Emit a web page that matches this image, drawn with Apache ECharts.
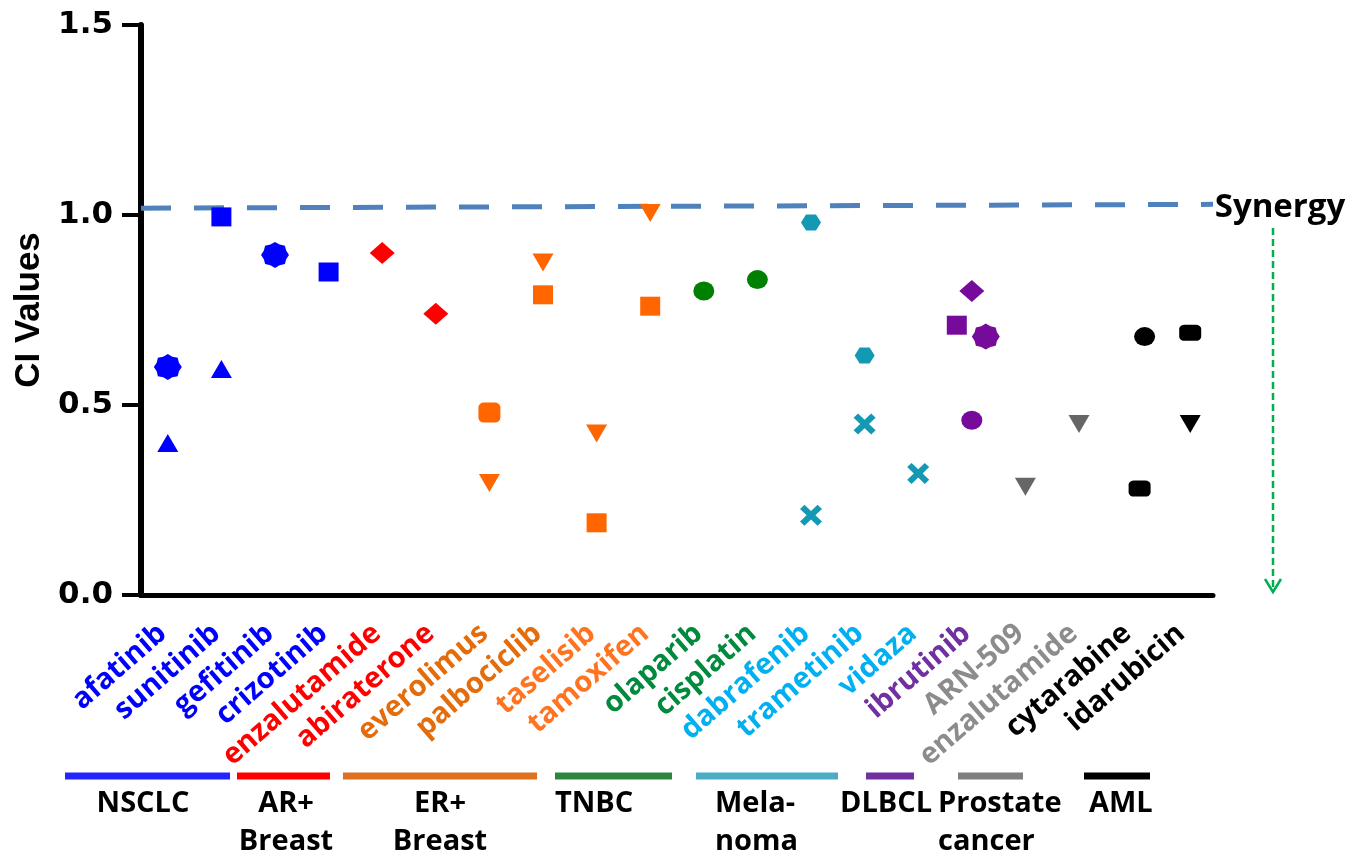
<!DOCTYPE html>
<html><head><meta charset="utf-8">
<script src="https://cdn.jsdelivr.net/npm/echarts@6/dist/echarts.min.js"></script>
<style>html,body{margin:0;padding:0;background:#fff}#c{width:1350px;height:857px}</style>
</head><body><div id="c"></div>
<script>
// ---------- data ----------
const drugs = ['afatinib','sunitinib','gefitinib','crizotinib','enzalutamide','abiraterone',
  'everolimus','palbociclib','taselisib','tamoxifen','olaparib','cisplatin','dabrafenib',
  'trametinib','vidaza','ibrutinib','ARN-509','enzalutamide','cytarabine','idarubicin'];
const yTicks = [0, 0.5, 1.0, 1.5];
// [drug index, CI value]
const flowerPts      = [[0,0.60],[2,0.895],[15,0.68]];
const trianglePts    = [[0,0.40],[1,0.595]];
const squarePts      = [[1,0.995],[3,0.85],[7,0.79],[8,0.19],[9,0.76],[15,0.71]];
const diamondPts     = [[4,0.90],[5,0.74],[15,0.80]];
const roundSquarePts = [[6,0.48],[18,0.28],[19,0.69]];
const triDownPts     = [[6,0.295],[7,0.875],[8,0.425],[9,1.005],[16,0.285],[17,0.45],[19,0.45]];
const circlePts      = [[10,0.80],[11,0.83],[15,0.46],[18,0.68]];
const hexagonPts     = [[12,0.98],[13,0.63]];
const crossPts       = [[12,0.21],[13,0.45],[14,0.32]];
const synergyLevel   = [1.018, 1.028]; // dashed line, left end / right end
const groupNames = ['NSCLC','AR+\nBreast','ER+\nBreast','TNBC','Mela-\nnoma','DLBCL','Prostate\ncancer','AML'];

// ---------- styles ----------
const labelColors = ['#0000ff','#0000ff','#0000ff','#0000ff','#ff0000','#ff0000',
  '#e46c0a','#e46c0a','#ff7420','#ff7420','#008a3e','#008a3e','#00b0f0',
  '#00b0f0','#00b0f0','#7030a0','#8c8c8c','#8c8c8c','#000000','#000000'];
const markerColors = ['#0000ff','#0000ff','#0000ff','#0000ff','#ff0000','#ff0000',
  '#ff6600','#ff6600','#ff6600','#ff6600','#008000','#008000','#1399b3',
  '#1399b3','#1399b3','#760a9a','#666666','#666666','#000000','#000000'];
const xOffsets = {'square:15':-15,'flower:15':14,'circle:18':12,'roundSquare:18':7,'roundSquare:19':4,'triDown:19':4};
const groupBars = [
  {x1:65,x2:230,c:'#2424ff',tx:143,align:'center'},
  {x1:237,x2:330,c:'#ff0000',tx:286,align:'center'},
  {x1:343,x2:537,c:'#e07020',tx:440,align:'center'},
  {x1:555,x2:672,c:'#2e8540',tx:555,align:'left'},
  {x1:696,x2:838,c:'#4bacc6',tx:715,align:'left'},
  {x1:866,x2:914,c:'#7030a0',tx:840,align:'left'},
  {x1:958,x2:1023,c:'#7f7f7f',tx:938,align:'left'},
  {x1:1084,x2:1150,c:'#000000',tx:1089,align:'left'}
];
const LABEL_FONT = '"Open Sans"';

function flowerPath(){
  let p=[]; const n=16;
  for(let i=0;i<n;i++){const a=i*Math.PI*2/n; const r=(i%2===0)?1:0.86; p.push((Math.cos(a)*r).toFixed(3)+','+(Math.sin(a)*r).toFixed(3));}
  return 'path://M'+p.join(' L')+' Z';
}
const SYM = {
  flower: flowerPath(),
  hexagon: 'path://M-1,0 L-0.5,-0.85 L0.5,-0.85 L1,0 L0.5,0.85 L-0.5,0.85 Z',
  cross: 'path://M-1,-0.6 L-0.6,-1 L0,-0.4 L0.6,-1 L1,-0.6 L0.4,0 L1,0.6 L0.6,1 L0,0.4 L-0.6,1 L-1,0.6 L-0.4,0 Z'
};

function mk(name, pts, symbol, size, extra){
  return Object.assign({
    type:'scatter', name, symbol, symbolSize:size, z:3,
    itemStyle:{opacity:1},
    data: pts.map(p => {
      const o = {value:p, itemStyle:{color:markerColors[p[0]], opacity:1}};
      const off = xOffsets[name+':'+p[0]];
      if(off) o.symbolOffset=[off,0];
      return o;
    })
  }, extra||{});
}

const chart = echarts.init(document.getElementById('c'));
const series = [
  {type:'line', xAxisIndex:1, data:[[0,synergyLevel[0]],[1,synergyLevel[1]]], symbol:'none', z:2,
   lineStyle:{color:'#4f81bd', width:5, type:[30,23]}, silent:true},
  mk('flower', flowerPts, SYM.flower, [28,26]),
  mk('triangle', trianglePts, 'triangle', [21,18]),
  mk('square', squarePts, 'rect', [20,19]),
  mk('diamond', diamondPts, 'diamond', [25,22]),
  mk('triDown', triDownPts, 'triangle', [21,18], {symbolRotate:180}),
  mk('circle', circlePts, 'circle', [21,19]),
  mk('hexagon', hexagonPts, SYM.hexagon, [20,16]),
  mk('cross', crossPts, SYM.cross, [22,21])
];
const rs = mk('roundSquare', roundSquarePts, 'roundRect', [22,16]);
rs.data[0].symbolSize=[22,20];
series.push(rs);

const graphic = [];
groupBars.forEach((g,i)=>{
  graphic.push({type:'line', shape:{x1:g.x1,y1:776,x2:g.x2,y2:776}, style:{stroke:g.c, lineWidth:7}});
  graphic.push({type:'text', x:g.tx, y:785, style:{text:groupNames[i], fill:'#000', font:'bold 29px '+LABEL_FONT, align:g.align, verticalAlign:'top', lineHeight:38}});
});
graphic.push({type:'text', x:1280, y:208, style:{text:'Synergy', fill:'#000', font:'bold 33px '+LABEL_FONT, align:'center', verticalAlign:'middle'}});
graphic.push({type:'line', shape:{x1:1273,y1:228,x2:1273,y2:590}, style:{stroke:'#00b050', lineWidth:2.5, lineDash:[7,4]}});
graphic.push({type:'polyline', shape:{points:[[1265,579],[1273,592],[1281,579]]}, style:{stroke:'#00b050', lineWidth:2.5, fill:null}});

chart.setOption({
  backgroundColor:'#fff',
  animation:false,
  grid:{left:141, right:137, top:25, bottom:262, containLabel:false, outerBoundsMode:'none'},
  xAxis:[{
    type:'category', data:drugs, boundaryGap:true,
    axisLine:{lineStyle:{color:'#000', width:5}},
    axisTick:{alignWithLabel:true, length:15, lineStyle:{color:'#000', width:4}},
    axisLabel:{interval:0, rotate:41, margin:30, padding:[0,7,0,0], fontFamily:'Open Sans', fontWeight:'bold', fontSize:29,
      color:(v,i)=>labelColors[i]},
    splitLine:{show:false}
  },{
    type:'value', min:0, max:1, show:false
  }],
  yAxis:{
    type:'value', min:yTicks[0], max:yTicks[yTicks.length-1], interval:0.5,
    name:'CI Values', nameLocation:'middle', nameGap:82, nameRotate:90,
    nameTextStyle:{fontFamily:'Liberation Sans', fontWeight:'bold', fontSize:35, color:'#000'},
    axisLine:{show:true, lineStyle:{color:'#000', width:6}},
    axisTick:{show:true, length:19, lineStyle:{color:'#000', width:4}},
    axisLabel:{margin:28, fontFamily:'DejaVu Sans', fontWeight:'bold', fontSize:31, color:'#000',
      formatter:v=>v.toFixed(1)},
    splitLine:{show:false}
  },
  series,
  graphic
});
</script></body></html>
